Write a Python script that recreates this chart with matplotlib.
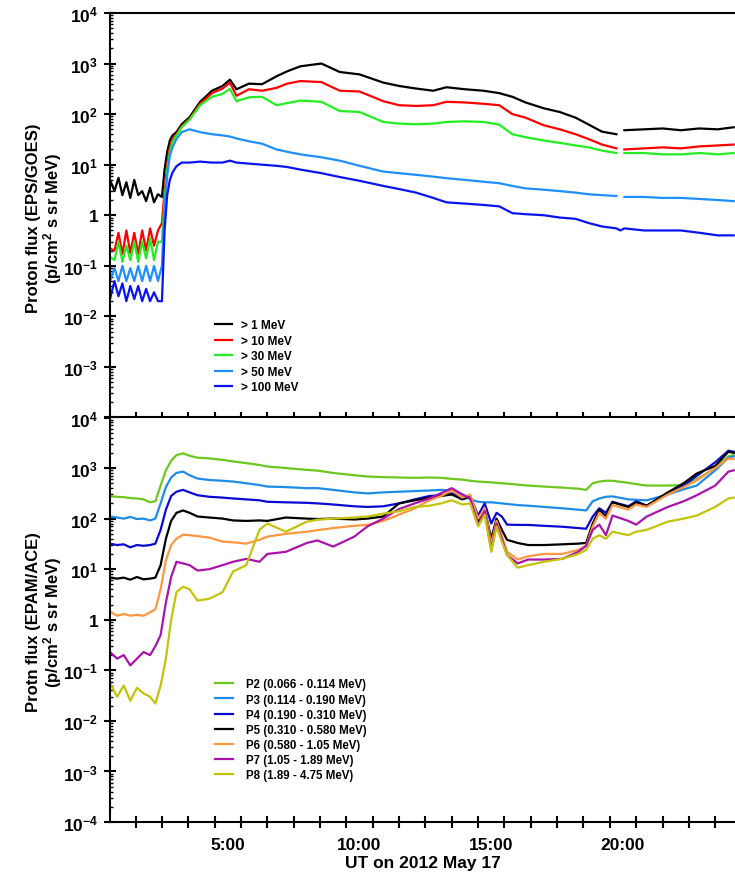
import matplotlib
matplotlib.use('Agg')
import matplotlib.pyplot as plt
import numpy as np
from matplotlib.ticker import FixedLocator, FuncFormatter, LogLocator, NullFormatter

plt.rcParams['font.family'] = ['Liberation Sans', 'DejaVu Sans']
plt.rcParams['font.weight'] = 'bold'
plt.rcParams['mathtext.fontset'] = 'custom'
plt.rcParams['mathtext.bf'] = 'Liberation Sans:bold'
plt.rcParams['mathtext.rm'] = 'Liberation Sans:bold'
plt.rcParams['mathtext.default'] = 'bf'

nan = np.nan

# ---- GOES (top panel), hours UT ----
t_goes = [0.53, 0.7, 0.85, 1.0, 1.15, 1.3, 1.45, 1.6, 1.75, 1.9, 2.05, 2.2, 2.35, 2.5,
          2.6, 2.7, 2.8, 2.9, 3.05, 3.25, 3.55, 3.95, 4.4, 4.8, 5.08, 5.33, 5.8, 6.3,
          6.85, 7.25, 7.75, 8.55, 9.25, 10.0, 10.9, 11.5, 12.15, 12.8, 13.3, 14.0,
          14.7, 15.3, 15.8, 16.3, 17.0, 17.6, 18.2, 18.7, 19.2, 19.75, 19.9, 20.05,
          20.8, 21.5, 22.2, 22.9, 23.6, 24.2]
gt1 = [5.0, 3.0, 5.5, 2.5, 4.5, 2.2, 5.0, 2.5, 3.0, 1.9, 3.5, 1.8, 2.6, 2.3,
       8, 18, 30, 38, 44, 63, 87, 175, 290, 360, 480, 310, 400, 390,
       560, 700, 880, 1000, 680, 610, 420, 360, 320, 290, 340, 310,
       290, 260, 220, 170, 130, 110, 85, 62, 45, 40, nan, 48,
       50, 52, 48, 52, 50, 55]
gt10 = [0.22, 0.2, 0.45, 0.17, 0.5, 0.18, 0.45, 0.17, 0.5, 0.2, 0.55, 0.25, 0.5, 0.7,
        3, 10, 22, 32, 40, 58, 80, 160, 260, 320, 420, 230, 310, 290,
        330, 400, 450, 430, 290, 280, 180, 150, 145, 150, 175, 170,
        160, 150, 100, 85, 60, 50, 40, 32, 25, 21, nan, 20,
        21, 22, 21, 23, 24, 25]
gt30 = [0.15, 0.13, 0.3, 0.12, 0.25, 0.13, 0.3, 0.12, 0.3, 0.14, 0.35, 0.13, 0.3, 0.3,
        2, 8, 18, 28, 38, 55, 78, 150, 220, 250, 315, 180, 215, 220,
        150, 165, 185, 175, 115, 110, 70, 65, 63, 65, 70, 72,
        70, 62, 40, 35, 30, 27, 24, 22, 19, 17, nan, 17,
        17, 16, 16, 17, 16, 17]
gt50 = [0.05, 0.09, 0.05, 0.1, 0.05, 0.09, 0.05, 0.1, 0.05, 0.1, 0.05, 0.1, 0.05, 0.1,
        1.5, 6, 15, 22, 32, 44, 50, 44, 40, 38, 36, 33, 29, 26,
        20, 18, 16, 14, 12, 9.5, 7.3, 6.8, 6.3, 5.8, 5.4, 5.0,
        4.6, 4.3, 3.8, 3.4, 3.2, 3.0, 2.8, 2.6, 2.5, 2.4, nan, 2.3,
        2.3, 2.2, 2.2, 2.1, 2.0, 1.9]
gt100 = [0.022, 0.05, 0.025, 0.045, 0.02, 0.04, 0.022, 0.04, 0.02, 0.035, 0.02, 0.03, 0.02, 0.02,
         0.5, 2.5, 5, 7, 9.3, 11, 11, 11.5, 11, 11, 12, 11, 10.5, 10,
         9.5, 9, 8, 6.8, 5.7, 4.8, 3.8, 3.3, 2.8, 2.2, 1.8, 1.7,
         1.6, 1.5, 1.1, 1.05, 1.0, 0.9, 0.85, 0.7, 0.6, 0.55, 0.5, 0.55,
         0.5, 0.5, 0.5, 0.45, 0.4, 0.4]
goes_labels = ['> 1 MeV', '> 10 MeV', '> 30 MeV', '> 50 MeV', '> 100 MeV']
goes_colors = ['black', '#ff0000', '#22ee22', '#1e8fff', '#0a14f0']

# ---- EPAM (bottom panel) ----
t_epam = [0.53, 0.8, 1.05, 1.3, 1.55, 1.8, 2.05, 2.25, 2.45, 2.65, 2.85, 3.05, 3.3, 3.55,
          3.85, 4.3, 4.8, 5.2, 5.7, 6.2, 6.5, 7.2, 8.0, 8.4, 9.0, 9.8, 10.3, 10.9,
          11.5, 12.1, 12.65, 13.1, 13.5, 13.9, 14.2, 14.5, 14.75, 15.0, 15.2, 15.4,
          15.6, 16.0, 16.4, 17.0, 17.7, 18.3, 18.6, 18.85, 19.1, 19.35, 19.6, 20.2,
          20.5, 20.9, 21.7, 22.3, 22.8, 23.5, 24.0, 24.2]
p2 = [275, 270, 265, 255, 250, 240, 210, 220, 450, 900, 1400, 1800, 1950, 1750,
      1600, 1550, 1450, 1350, 1250, 1150, 1070, 1000, 920, 890, 800, 720, 680, 660,
      650, 640, 650, 640, 610, 590, 560, 540, 530, 520, 510, 500,
      490, 470, 450, 430, 410, 390, 370, 500, 540, 560, 560, 510,
      480, 450, 450, 460, 600, 1000, 1700, 1800]
p3 = [110, 105, 100, 108, 98, 100, 92, 100, 200, 420, 650, 800, 850, 720,
      620, 580, 560, 540, 500, 460, 430, 420, 400, 400, 370, 330, 315, 330,
      340, 350, 360, 370, 360, 300, 240, 215, 210, 210, 205, 200,
      195, 185, 180, 170, 160, 150, 145, 220, 250, 270, 275, 240,
      235, 230, 300, 380, 450, 900, 1600, 1700]
p4 = [32, 30, 31, 27, 30, 29, 30, 32, 60, 150, 280, 340, 370, 330,
      290, 270, 260, 250, 240, 230, 215, 210, 205, 200, 190, 175, 170, 175,
      200, 240, 280, 290, 315, 260, 280, 115, 200, 80, 130, 110,
      76, 75, 75, 72, 69, 65, 63, 110, 160, 130, 215, 175,
      220, 180, 310, 450, 700, 1300, 2200, 2100]
p5 = [6.8, 6.5, 6.8, 6.2, 7.0, 6.3, 6.5, 6.8, 12, 40, 90, 130, 145, 130,
      110, 105, 100, 92, 90, 92, 90, 105, 100, 98, 100, 96, 100, 110,
      200, 230, 260, 280, 300, 240, 270, 90, 150, 40, 100, 60,
      38, 33, 30, 30, 31, 32, 33, 80, 150, 110, 210, 170,
      210, 180, 330, 500, 780, 1100, 2100, 2000]
p6 = [1.45, 1.2, 1.3, 1.2, 1.25, 1.2, 1.4, 1.6, 4, 15, 30, 40, 48, 47,
      45, 42, 35, 34, 32, 38, 44, 50, 55, 59, 65, 72, 75, 90,
      120, 160, 230, 280, 360, 260, 300, 100, 160, 31, 90, 45,
      22, 15.5, 18, 20, 20, 24, 29, 70, 130, 100, 185, 150,
      190, 170, 300, 420, 570, 1000, 1550, 1500]
p7 = [0.23, 0.17, 0.2, 0.125, 0.17, 0.23, 0.2, 0.3, 0.5, 2.2, 7, 14, 13, 12,
      9.4, 10, 12, 14, 16, 14, 20, 22, 33, 37, 28, 44, 70, 100,
      155, 200, 250, 320, 400, 300, 250, 76, 140, 24, 80, 40,
      19, 13, 15.5, 15.5, 16, 22, 29, 60, 76, 47, 115, 90,
      76, 110, 170, 220, 290, 450, 850, 900]
p8 = [0.055, 0.03, 0.05, 0.025, 0.045, 0.035, 0.03, 0.022, 0.05, 0.17, 1.0, 3.5, 4.5, 4.0,
      2.4, 2.6, 3.5, 9, 12, 60, 80, 55, 87, 95, 100, 105, 110, 125,
      140, 170, 180, 200, 230, 190, 200, 70, 120, 22, 70, 35,
      19, 10.7, 12, 14, 16, 20, 24, 40, 47, 40, 55, 47,
      55, 60, 87, 100, 115, 170, 250, 260]
epam_labels = ['P2 (0.066 - 0.114 MeV)', 'P3 (0.114 - 0.190 MeV)', 'P4 (0.190 - 0.310 MeV)',
               'P5 (0.310 - 0.580 MeV)', 'P6 (0.580 - 1.05 MeV)', 'P7 (1.05 - 1.89 MeV)',
               'P8 (1.89 - 4.75 MeV)']
epam_colors = ['#6cc81e', '#1e8ce6', '#0a0ad2', 'black', '#ff9640', '#aa14aa', '#c3c30a']

hour_ticks = np.arange(1.5, 24.0, 1.0)
hour_labels = [5, 10, 15, 20]
decades = [-4, -3, -2, -1, 0, 1, 2, 3, 4]


def ylab(v, pos, skip_bottom):
    n = int(round(np.log10(v)))
    if skip_bottom and n == -4:
        return ''
    if n == 0:
        return '1'
    return '$10^{%d}$' % n


def style(ax, skip_bottom, show_x):
    ax.set_yscale('log')
    ax.set_ylim(1e-4, 1e4)
    ax.set_xlim(0.53, 24.25)
    ax.yaxis.set_major_locator(FixedLocator([10.0 ** d for d in decades]))
    ax.yaxis.set_major_formatter(FuncFormatter(lambda v, p: ylab(v, p, skip_bottom)))
    ax.yaxis.set_minor_locator(LogLocator(base=10, subs=np.arange(2, 10), numticks=20))
    ax.yaxis.set_minor_formatter(NullFormatter())
    ax.tick_params(axis='y', which='major', direction='inout', length=9, width=1.5,
                   labelsize=12.5, pad=4)
    ax.tick_params(axis='y', which='minor', direction='in', length=2.5, width=1)
    ax.xaxis.set_major_locator(FixedLocator(hour_ticks))
    ax.xaxis.set_major_formatter(NullFormatter())
    ax.tick_params(axis='x', which='major', direction='inout', length=9, width=1.5)
    if show_x:
        ax.xaxis.set_minor_locator(FixedLocator(hour_labels))
        ax.xaxis.set_minor_formatter(FuncFormatter(lambda v, p: '%d:00' % v))
        ax.tick_params(axis='x', which='minor', length=0, labelsize=12.5, pad=11)
    else:
        ax.xaxis.set_minor_locator(FixedLocator([]))
    for s in ['left', 'bottom', 'top']:
        ax.spines[s].set_linewidth(1.5)
    ax.spines['right'].set_visible(False)


fig = plt.figure(figsize=(7.35, 8.78), dpi=100)
ax1 = fig.add_axes([0.1497, 0.5233, 0.8503, 0.4608])
ax2 = fig.add_axes([0.1497, 0.0626, 0.8503, 0.4608])

for vals, lab, col in zip([gt1, gt10, gt30, gt50, gt100], goes_labels, goes_colors):
    ax1.plot(t_goes, vals, color=col, lw=1.6, label=lab)
for vals, lab, col in zip([p2, p3, p4, p5, p6, p7, p8], epam_labels, epam_colors):
    ax2.plot(t_epam, vals, color=col, lw=1.6, label=lab)

style(ax1, True, False)
style(ax2, False, True)

ax1.set_ylabel('Proton flux (EPS/GOES)\n(p/cm$^2$ s sr MeV)', fontsize=12,
               fontweight='bold', linespacing=1.05)
ax2.set_ylabel('Protn flux (EPAM/ACE)\n(p/cm$^2$ s sr MeV)', fontsize=12,
               fontweight='bold', linespacing=1.05)
ax1.yaxis.set_label_coords(-0.073, 0.495)
ax2.yaxis.set_label_coords(-0.073, 0.497)
ax2.set_xlabel('UT on 2012 May 17', fontsize=12.5, fontweight='bold', labelpad=2)

ax1.legend(loc='upper left', bbox_to_anchor=(0.168, 0.243), frameon=False,
           handlelength=1.4, handletextpad=0.8, labelspacing=0.3, borderpad=0,
           borderaxespad=0, prop={'weight': 'bold', 'size': 8.5})
ax2.legend(loc='upper left', bbox_to_anchor=(0.168, 0.355), frameon=False,
           handlelength=1.6, handletextpad=1.1, labelspacing=0.27, borderpad=0,
           borderaxespad=0, prop={'weight': 'bold', 'size': 8.3})

fig.savefig('out.png', dpi=100)
